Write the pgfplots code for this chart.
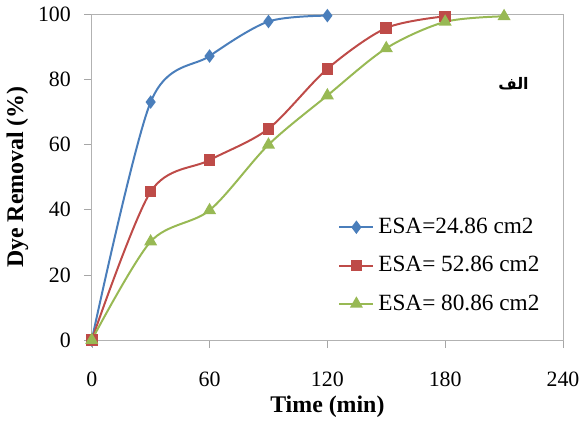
\documentclass[border=0pt]{standalone}
\usepackage{fontspec}
\setmainfont{Liberation Serif}
\newfontfamily\arabicfont[Script=Arabic]{DejaVu Sans}
\TeXXeTstate=1
\usepackage{pgfplots}
\pgfplotsset{compat=1.18}

\definecolor{exblue}{HTML}{4A7EBB}
\definecolor{exred}{HTML}{BE4B48}
\definecolor{exgreen}{HTML}{98B954}

\begin{document}
\begin{tikzpicture}
\begin{axis}[
    scale only axis,
    width=237pt,
    height=164pt,
    xmin=0, xmax=240,
    ymin=0, ymax=100,
    xtick={0,60,120,180,240},
    ytick={0,20,40,60,80,100},
    xtick pos=bottom,
    ytick pos=left,
    tick align=outside,
    major tick length=4pt,
    axis line style={gray!60},
    tick style={gray!70},
    /pgf/number format/assume math mode=true,
    ticklabel style={font=\fontsize{11}{13}\selectfont},
    xticklabel style={yshift=-8.5pt},
    yticklabel style={xshift=-3pt},
    xlabel={\textbf{Time (min)}},
    ylabel={\textbf{Dye Removal (\%)}},
    label style={font=\fontsize{12}{14}\selectfont},
    xlabel style={yshift=2pt},
    ylabel style={yshift=-2pt},
    clip=false,
    legend cell align=left,
    legend style={
        at={(rel axis cs:0.51,0.40)}, anchor=north west,
        draw=none, fill=none,
        font=\fontsize{11.7}{13.5}\selectfont,
        row sep=6pt,
    },
    legend image post style={line width=1pt},
    every axis plot/.append style={line width=1pt, smooth, tension=0.5},
]

% ESA = 24.86 cm2
\addplot[color=exblue, mark=diamond*, mark size=2.6pt, mark options={solid}] coordinates {
    (0,0) (30,73) (60,87.1) (90,97.7) (120,99.5)
};
\addlegendentry{ESA=24.86 cm2}

% ESA = 52.86 cm2
\addplot[color=exred, mark=square*, mark size=2.4pt] coordinates {
    (0,0) (30,45.5) (60,55.2) (90,64.8) (120,83.2) (150,95.7) (180,99.3)
};
\addlegendentry{ESA= 52.86 cm2}

% ESA = 80.86 cm2
\addplot[color=exgreen, mark=triangle*, mark size=2.8pt] coordinates {
    (0,0) (30,30.2) (60,39.8) (90,59.9) (120,75) (150,89.5) (180,97.6) (210,99.3)
};
\addlegendentry{ESA= 80.86 cm2}

\node[font=\arabicfont\bfseries\fontsize{8}{10}\selectfont] at (rel axis cs:0.895,0.785) {\beginR الف\endR};

\end{axis}
\end{tikzpicture}
\end{document}
